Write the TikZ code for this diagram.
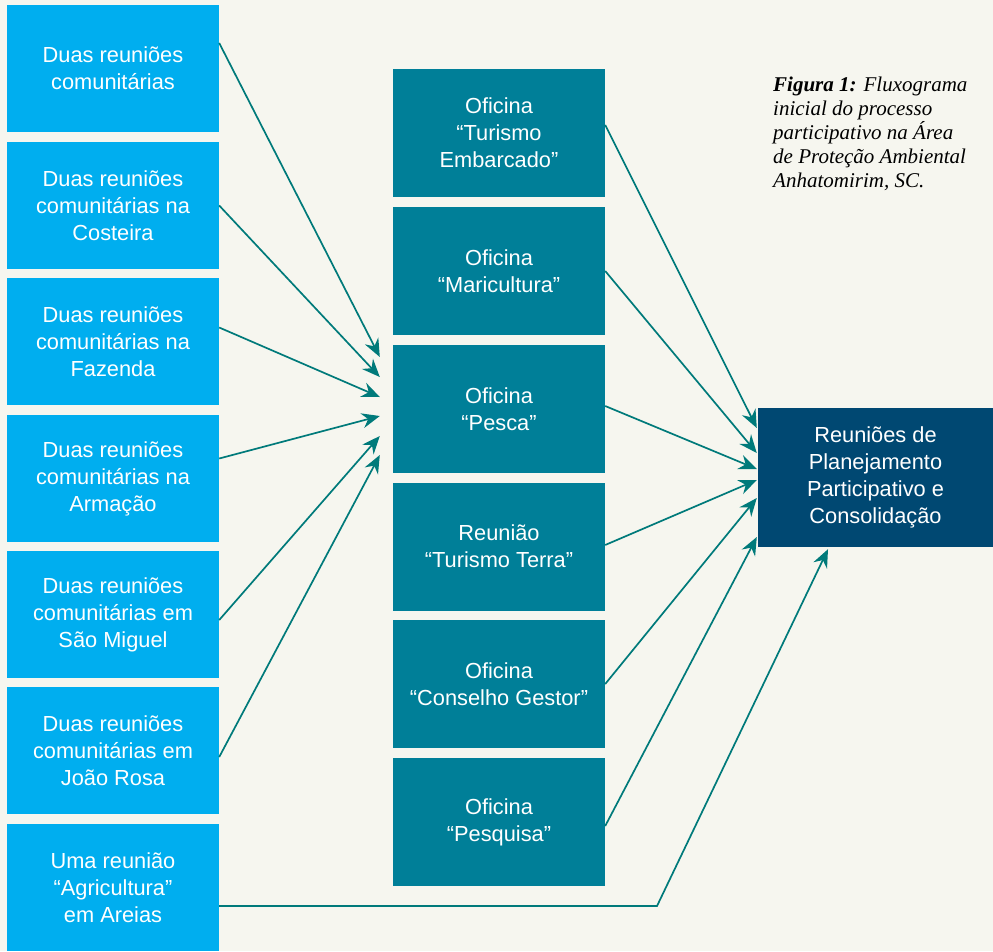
\documentclass[tikz,border=0pt]{standalone}
\usepackage{fontspec}
\setsansfont{Liberation Sans}
\newfontfamily\captionfont{Liberation Serif}
\usetikzlibrary{arrows.meta,positioning}

\definecolor{paper}{HTML}{F6F6EF}
\definecolor{skyblue}{HTML}{00AEEF}
\definecolor{tealbox}{HTML}{007F98}
\definecolor{navybox}{HTML}{004872}
\definecolor{flowline}{HTML}{007A7A}

\tikzset{
	box/.style={rectangle, inner sep=0pt, text=white, align=center,
		font=\sffamily\fontsize{21.8}{27}\selectfont},
	reuniao/.style={box, fill=skyblue, minimum width=212pt, minimum height=127pt},
	oficina/.style={box, fill=tealbox, minimum width=212pt, minimum height=128pt},
	final/.style={box, fill=navybox, minimum width=235pt, minimum height=139pt},
	flow/.style={draw=flowline, line width=1.7pt,
		-{Stealth[length=18pt, width=15pt, inset=6pt, flowline]}}
}

\begin{document}
\begin{tikzpicture}[x=1pt, y=-1pt]
	\fill [paper] (0,0) rectangle (993,951);
	\useasboundingbox (0,0) rectangle (993,951);

	% reunioes comunitarias
	\node [reuniao]	(Comunitarias)	at (113,68.5)	{Duas reuniões\\comunitárias};
	\node [reuniao]	(Costeira)	at (113,205.5)	{Duas reuniões\\comunitárias na\\Costeira};
	\node [reuniao]	(Fazenda)	at (113,341.5)	{Duas reuniões\\comunitárias na\\Fazenda};
	\node [reuniao]	(Armacao)	at (113,478.5)	{Duas reuniões\\comunitárias na\\Armação};
	\node [reuniao]	(SaoMiguel)	at (113,614.5)	{Duas reuniões\\comunitárias em\\São Miguel};
	\node [reuniao]	(JoaoRosa)	at (113,750.5)	{Duas reuniões\\comunitárias em\\João Rosa};
	\node [reuniao]	(Areias)	at (113,887.5)	{Uma reunião\\“Agricultura”\\em Areias};

	% oficinas
	\node [oficina]	(Embarcado)	at (499,133)	{Oficina\\“Turismo\\Embarcado”};
	\node [oficina]	(Maricultura)	at (499,271)	{Oficina\\“Maricultura”};
	\node [oficina]	(Pesca)	at (499,409)	{Oficina\\“Pesca”};
	\node [oficina]	(TurismoTerra)	at (499,546.5)	{Reunião\\“Turismo Terra”};
	\node [oficina]	(Conselho)	at (499,684)	{Oficina\\“Conselho Gestor”};
	\node [oficina]	(Pesquisa)	at (499,822)	{Oficina\\“Pesquisa”};

	\node [final]	(Planejamento)	at (875.5,477.5)	{Reuniões de\\Planejamento\\Participativo e\\Consolidação};

	\node [anchor=north west, inner sep=0pt, align=left,
		font=\captionfont\itshape\fontsize{21}{24}\selectfont]
		(Legenda) at (773,77)
		{\textbf{Figura 1:} Fluxograma\\inicial do processo\\participativo na Área\\de Proteção Ambiental\\Anhatomirim, SC.};

	% setas para a oficina Pesca
	\draw [flow] ([yshift=25.5pt]Comunitarias.east)	-- ([xshift=-13pt, yshift=52pt]Pesca.west);
	\draw [flow] (Costeira.east)	-- ([xshift=-13pt, yshift=32pt]Pesca.west);
	\draw [flow] ([yshift=14pt]Fazenda.east)	-- ([xshift=-13pt, yshift=12pt]Pesca.west);
	\draw [flow] ([yshift=20pt]Armacao.east)	-- ([xshift=-13pt, yshift=-7pt]Pesca.west);
	\draw [flow] ([yshift=-5.5pt]SaoMiguel.east)	-- ([xshift=-13pt, yshift=-27pt]Pesca.west);
	\draw [flow] ([yshift=-6.5pt]JoaoRosa.east)	-- ([xshift=-13pt, yshift=-46pt]Pesca.west);

	% setas para o planejamento
	\draw [flow] ([yshift=8pt]Embarcado.east)	-- ([xshift=-1pt, yshift=49.5pt]Planejamento.west);
	\draw [flow] (Maricultura.east)	-- ([xshift=-1pt, yshift=24.5pt]Planejamento.west);
	\draw [flow] ([yshift=3pt]Pesca.east)	-- ([xshift=-1pt, yshift=8.5pt]Planejamento.west);
	\draw [flow] ([yshift=1.5pt]TurismoTerra.east)	-- ([xshift=-1pt, yshift=-2.5pt]Planejamento.west);
	\draw [flow] (Conselho.east)	-- ([xshift=-1pt, yshift=-20.5pt]Planejamento.west);
	\draw [flow] ([yshift=-4pt]Pesquisa.east)	-- ([xshift=-1pt, yshift=-59.5pt]Planejamento.west);

	\coordinate (Curva) at (657,906);
	\draw [flow] ([yshift=-18.5pt]Areias.east) -- (Curva) -- ([xshift=-47.5pt, yshift=-2pt]Planejamento.south);
\end{tikzpicture}
\end{document}
